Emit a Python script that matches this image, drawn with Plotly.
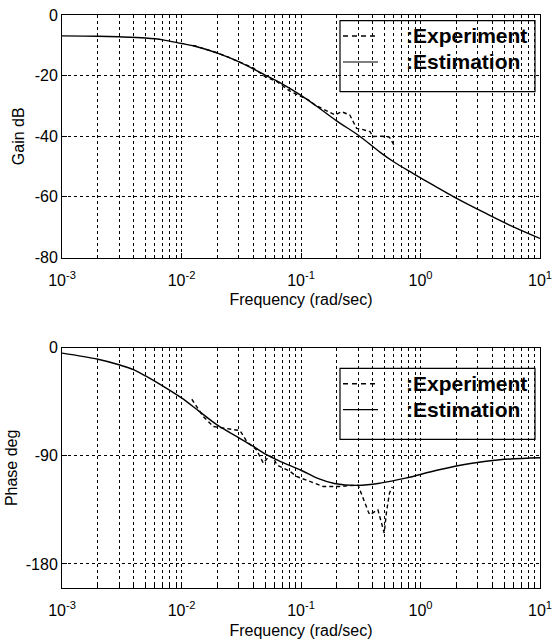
import plotly.graph_objects as go
from plotly.subplots import make_subplots

# ---------------- data ----------------
est_gain_freq = [0.001, 0.002, 0.003, 0.005, 0.007, 0.01, 0.013, 0.02, 0.03, 0.05, 0.07, 0.1,
                 0.13, 0.2, 0.3, 0.46, 0.6, 0.87, 1.3, 1.9, 3.5, 5.5, 10]
est_gain_db = [-6.9, -7.0, -7.2, -7.6, -8.2, -9.4, -10.3, -12.6, -15.4, -19.8, -22.8, -26.5,
               -29.6, -35.0, -39.6, -45.3, -48.5, -52.3, -56.3, -60.0, -65.4, -69.2, -73.7]

exp_gain_freq = [0.0125, 0.016, 0.02, 0.025, 0.03, 0.04, 0.05, 0.063, 0.08, 0.1, 0.115, 0.131,
                 0.16, 0.193, 0.219, 0.256, 0.292, 0.33, 0.378, 0.40, 0.47, 0.55, 0.61]
exp_gain_db = [-10.0, -11.2, -12.5, -14.0, -15.3, -17.5, -20.3, -22.0, -25.0, -26.7, -28.0, -29.7,
               -31.3, -33.0, -31.9, -33.0, -37.4, -37.8, -38.5, -40.1, -40.0, -40.3, -43.4]

est_phase_freq = [0.001, 0.002, 0.003, 0.004, 0.005, 0.007, 0.01, 0.014, 0.02, 0.03, 0.04, 0.05,
                  0.065, 0.1, 0.14, 0.19, 0.3, 0.46, 0.75, 1.4, 2.7, 4.6, 10]
est_phase_deg = [-4.5, -9.6, -14.2, -18.5, -23.5, -32.0, -41.8, -52.8, -64.5, -74.8, -82.2, -88.3,
                 -94.0, -102.0, -109.0, -113.0, -114.6, -112.7, -108.6, -101.8, -96.2, -93.3, -91.6]

exp_phase_freq = [0.0122, 0.0152, 0.0185, 0.0239, 0.0309, 0.0352, 0.0424, 0.0484, 0.0543, 0.0588,
                  0.0627, 0.0812, 0.0918, 0.12, 0.153, 0.21, 0.25, 0.30, 0.365, 0.376, 0.44,
                  0.497, 0.52, 0.55, 0.58]
exp_phase_deg = [-42.9, -57.3, -65.6, -67.0, -69.0, -78.1, -85.0, -96.1, -90.0, -91.5,
                 -97.5, -103.0, -107.2, -111.5, -115.5, -115.5, -115.0, -114.3, -136.3, -139.0, -134.9,
                 -154.2, -136.3, -121.0, -116.0]

x_decades = [1e-3, 1e-2, 1e-1, 1, 10]
x_decade_labels = ["10<sup>-3</sup>", "10<sup>-2</sup>", "10<sup>-1</sup>", "10<sup>0</sup>", "10<sup>1</sup>"]
gain_ticks = [0, -20, -40, -60, -80]
phase_ticks = [0, -90, -180]
series_names = ["Experiment", "Estimation"]
legend_labels = [":Experiment", ":Estimation"]

# ---------------- layout geometry ----------------
W, H = 553, 641
ML, MR, MT, MB = 62, 13, 15, 53
PW, PH = W - ML - MR, H - MT - MB

def px_x(px):
    return (px - ML) / PW

def px_y(py):
    return (H - MB - py) / PH

FONT = "Liberation Sans, Arial, Helvetica, sans-serif"

# minor grid positions: 2..9 multiples of each decade
x_minor = [m * d for d in x_decades[:-1] for m in range(2, 10)]

fig = make_subplots(rows=2, cols=1, vertical_spacing=0.0)
top_dom = [px_y(257.5), 1.0]
bot_dom = [0.0, px_y(347.7)]

exp_style = dict(color="black", width=1.4, dash="4px,3px")
est_style = dict(color="black", width=1.4)

fig.add_trace(go.Scatter(x=est_gain_freq, y=est_gain_db, mode="lines", line=est_style,
                         name=series_names[1], showlegend=False, line_shape="spline"), row=1, col=1)
fig.add_trace(go.Scatter(x=exp_gain_freq, y=exp_gain_db, mode="lines", line=exp_style,
                         name=series_names[0], showlegend=False), row=1, col=1)
fig.add_trace(go.Scatter(x=est_phase_freq, y=est_phase_deg, mode="lines", line=est_style,
                         name=series_names[1], showlegend=False, line_shape="spline"), row=2, col=1)
fig.add_trace(go.Scatter(x=exp_phase_freq, y=exp_phase_deg, mode="lines", line=exp_style,
                         name=series_names[0], showlegend=False), row=2, col=1)

grid = dict(gridcolor="black", gridwidth=1, griddash="3px,3px")
xcommon = dict(type="log", range=[-3, 1], tickmode="array", tickvals=x_decades, ticktext=x_decade_labels,
               showgrid=True, **grid,
               minor=dict(tickmode="array", tickvals=x_minor, showgrid=True, ticks="inside",
                          ticklen=3, tickcolor="black", **grid),
               showline=True, linecolor="black", linewidth=1, mirror=True,
               ticks="inside", ticklen=5, tickcolor="black",
               tickfont=dict(family=FONT, size=16, color="black"),
               ticklabelstandoff=8,
               title=dict(text="Frequency (rad/sec)", font=dict(family=FONT, size=16, color="black"),
                          standoff=6),
               zeroline=False)
ycommon = dict(showgrid=True, **grid,
               showline=True, linecolor="black", linewidth=1, mirror=True,
               ticks="inside", ticklen=5, tickcolor="black",
               tickfont=dict(family=FONT, size=16, color="black"), zeroline=False)

fig.update_xaxes(**xcommon)
fig.update_layout(
    xaxis=dict(domain=[0, 1], anchor="y"),
    xaxis2=dict(domain=[0, 1], anchor="y2"),
    yaxis=dict(domain=top_dom, range=[-80, 0], tickvals=gain_ticks, ticktext=[str(v) for v in gain_ticks],
               title=dict(text="Gain dB", font=dict(family=FONT, size=16, color="black"), standoff=6),
               **ycommon),
    yaxis2=dict(domain=bot_dom, range=[-200, 0], tickvals=phase_ticks, ticktext=[str(v) for v in phase_ticks],
                title=dict(text="Phase deg", font=dict(family=FONT, size=16, color="black"), standoff=4),
                **ycommon),
)

# ---------------- legends (drawn like the MATLAB boxes) ----------------
shapes, annos = [], []
for dy in (0.0, 347.7):
    shapes.append(dict(type="rect", xref="paper", yref="paper",
                       x0=px_x(340), x1=px_x(535), y0=px_y(91.7 + dy), y1=px_y(20.7 + dy),
                       line=dict(color="black", width=1.2), fillcolor="rgba(0,0,0,0)", layer="above"))
    shapes.append(dict(type="line", xref="paper", yref="paper",
                       x0=px_x(343), x1=px_x(378), y0=px_y(36 + dy), y1=px_y(36 + dy),
                       line=dict(color="black", width=1.6, dash="5px,4px"), layer="above"))
    shapes.append(dict(type="line", xref="paper", yref="paper",
                       x0=px_x(343), x1=px_x(378), y0=px_y(62 + dy), y1=px_y(62 + dy),
                       line=dict(color="black", width=1.2), layer="above"))
    for lab, yy in zip(legend_labels, (36, 61.5)):
        annos.append(dict(xref="paper", yref="paper", x=px_x(404), y=px_y(yy + dy),
                          xanchor="left", yanchor="middle", showarrow=False,
                          text="<b>" + lab + "</b>",
                          font=dict(family=FONT, size=21, color="black")))

fig.update_layout(
    width=W, height=H,
    margin=dict(l=ML, r=MR, t=MT, b=MB, autoexpand=False),
    paper_bgcolor="white", plot_bgcolor="white",
    shapes=shapes, annotations=annos, showlegend=False,
    font=dict(family=FONT, color="black"),
)

fig.write_html("out.html")
